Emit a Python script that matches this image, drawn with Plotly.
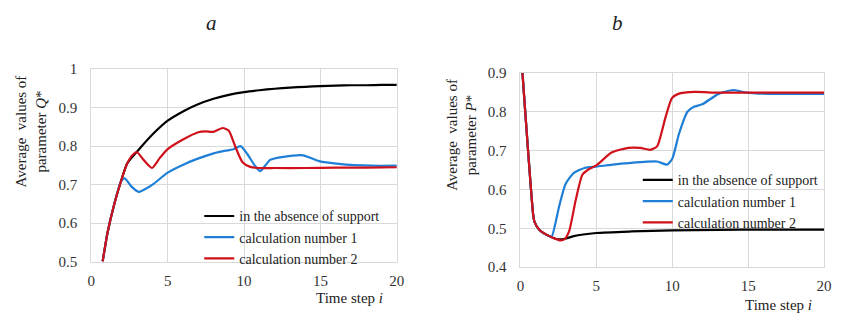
import plotly.graph_objects as go

# ---- Panel a: average values of parameter Q* ----
q_black_x = [0.74, 1.06, 1.5, 1.92, 2.35, 3.0, 4.0, 5, 6, 6.87, 8, 9, 10, 11, 12, 13, 14, 15, 16, 17, 18, 19, 20]
q_black_y = [0.50, 0.575, 0.649, 0.706, 0.755, 0.786, 0.83, 0.866, 0.89, 0.907, 0.923, 0.933, 0.940, 0.945, 0.949, 0.952, 0.954, 0.956, 0.957, 0.958, 0.958, 0.959, 0.959]

q_blue_x = [0.74, 1.06, 1.5, 1.92, 2.18, 2.6, 3.1, 3.5, 4.08, 5, 6.2, 7.3, 8.0, 8.8, 9.24, 9.77, 10.2, 10.74, 11.06, 11.4, 11.7, 12.57, 13.86, 14.9, 16.2, 18.35, 20]
q_blue_y = [0.50, 0.575, 0.649, 0.706, 0.716, 0.696, 0.681, 0.688, 0.702, 0.731, 0.755, 0.772, 0.781, 0.788, 0.791, 0.80, 0.78, 0.747, 0.735, 0.75, 0.764, 0.772, 0.776, 0.761, 0.754, 0.749, 0.749]

q_red_x = [0.74, 1.06, 1.5, 1.92, 2.35, 2.7, 3.0, 3.4, 3.97, 4.5, 5.0, 6.0, 7.0, 7.5, 8.0, 8.6, 9.0, 9.45, 9.9, 10.4, 11, 12, 14, 16, 18, 20]
q_red_y = [0.50, 0.575, 0.649, 0.706, 0.755, 0.777, 0.784, 0.765, 0.743, 0.77, 0.792, 0.817, 0.836, 0.838, 0.837, 0.847, 0.84, 0.796, 0.758, 0.746, 0.743, 0.743, 0.743, 0.744, 0.744, 0.745]

# ---- Panel b: average values of parameter P* ----
p_black_x = [0.13, 0.85, 0.93, 1.25, 1.9, 2.45, 3.0, 3.5, 5, 7.3, 10, 13, 16, 20]
p_black_y = [0.90, 0.53, 0.516, 0.496, 0.48, 0.472, 0.474, 0.48, 0.488, 0.492, 0.495, 0.496, 0.497, 0.497]

p_blue_x = [0.13, 0.85, 0.93, 1.25, 1.9, 2.05, 2.55, 2.97, 3.5, 4.26, 5, 6.84, 9.0, 9.65, 10.0, 10.45, 11.0, 11.43, 11.97, 13.05, 14.0, 14.8, 16.3, 20]
p_blue_y = [0.90, 0.53, 0.516, 0.496, 0.48, 0.478, 0.557, 0.614, 0.642, 0.656, 0.659, 0.667, 0.672, 0.664, 0.679, 0.744, 0.80, 0.813, 0.819, 0.846, 0.856, 0.85, 0.846, 0.846]

p_red_x = [0.13, 0.85, 0.93, 1.25, 1.9, 2.45, 2.65, 2.9, 3.2, 3.64, 4.08, 4.5, 5, 6.0, 7.1, 7.9, 8.55, 9.0, 9.55, 9.98, 10.4, 11.5, 13, 20]
p_red_y = [0.90, 0.53, 0.516, 0.496, 0.48, 0.471, 0.469, 0.472, 0.492, 0.573, 0.638, 0.652, 0.662, 0.695, 0.707, 0.707, 0.702, 0.711, 0.785, 0.835, 0.846, 0.851, 0.849, 0.849]

names = ["in the absence of support", "calculation number 1", "calculation number 2"]
colors = ["#000000", "#1f7fd6", "#d0101a"]
x_ticks = [0, 5, 10, 15, 20]

FONT = "Liberation Serif"
GRID = "#d9d9d9"

fig = go.Figure()

q_series = [(q_black_x, q_black_y), (q_blue_x, q_blue_y), (q_red_x, q_red_y)]
p_series = [(p_black_x, p_black_y), (p_blue_x, p_blue_y), (p_red_x, p_red_y)]

for (xs, ys), nm, c in zip(q_series, names, colors):
    fig.add_trace(go.Scatter(x=xs, y=ys, mode="lines", name=nm,
                             line=dict(color=c, width=2.2, shape="spline", smoothing=0.6),
                             xaxis="x", yaxis="y", legend="legend"))
for (xs, ys), nm, c in zip(p_series, names, colors):
    fig.add_trace(go.Scatter(x=xs, y=ys, mode="lines", name=nm,
                             line=dict(color=c, width=2.2, shape="spline", smoothing=0.6),
                             xaxis="x2", yaxis="y2", legend="legend2"))

W, H = 841, 324
M = 8


def px(x):
    return (x - M) / (W - 2 * M)


def py(y):
    return (H - M - y) / (H - 2 * M)


axis_common = dict(showgrid=True, gridcolor=GRID, gridwidth=1, zeroline=False,
                   showline=True, linecolor=GRID, linewidth=1, mirror=True,
                   ticks="", tickfont=dict(family=FONT, size=15, color="#333333"))

legend_common = dict(xanchor="left", yanchor="top", bgcolor="rgba(0,0,0,0)",
                     font=dict(family=FONT, size=14, color="#222222"),
                     itemwidth=30, tracegroupgap=0)

fig.update_layout(
    width=W, height=H,
    margin=dict(l=M, r=M, t=M, b=M),
    paper_bgcolor="white", plot_bgcolor="white",
    font=dict(family=FONT, size=15, color="#333333"),
    xaxis=dict(domain=[px(88.5), px(398.5)], range=[0, 20], tickvals=x_ticks,
               anchor="y", ticklabelstandoff=5, **axis_common),
    yaxis=dict(domain=[py(267), py(64)], range=[0.5, 1.0], dtick=0.1,
               tickformat=".1~f", anchor="x", ticklabelstandoff=10, **axis_common),
    xaxis2=dict(domain=[px(524), px(832)], range=[0, 20], tickvals=x_ticks,
                anchor="y2", ticklabelstandoff=5, **axis_common),
    yaxis2=dict(domain=[py(273), py(68)], range=[0.4, 0.9], dtick=0.1,
                tickformat=".1f", anchor="x2", ticklabelstandoff=10, **axis_common),
    legend=dict(x=px(198), y=py(202.5), **legend_common),
    legend2=dict(x=px(643), y=py(164.5), **legend_common),
)

annots = [
    dict(text="<i>a</i>", x=px(210), y=py(15), size=21),
    dict(text="<i>b</i>", x=px(622), y=py(15), size=21),
    dict(text="Time step <i>i</i>", x=px(350), y=py(305), size=15),
    dict(text="Time step <i>i</i>", x=px(786), y=py(313), size=15),
]
for a in annots:
    fig.add_annotation(text=a["text"], x=a["x"], y=a["y"], xref="paper", yref="paper",
                       showarrow=False, xanchor="center", yanchor="middle",
                       font=dict(family=FONT, size=a["size"], color="#222222"))

fig.add_annotation(text="Average  values of<br>parameter <i>Q</i>*", x=px(27), y=py(130),
                   xref="paper", yref="paper", showarrow=False, textangle=-90,
                   xanchor="center", yanchor="middle",
                   font=dict(family=FONT, size=15, color="#222222"))
fig.add_annotation(text="Average  values of<br>parameter <i>P</i>*", x=px(464), y=py(133),
                   xref="paper", yref="paper", showarrow=False, textangle=-90,
                   xanchor="center", yanchor="middle",
                   font=dict(family=FONT, size=15, color="#222222"))

fig.write_html("out.html", config={"displayModeBar": False},
               post_script="document.body.style.margin='0px';")
